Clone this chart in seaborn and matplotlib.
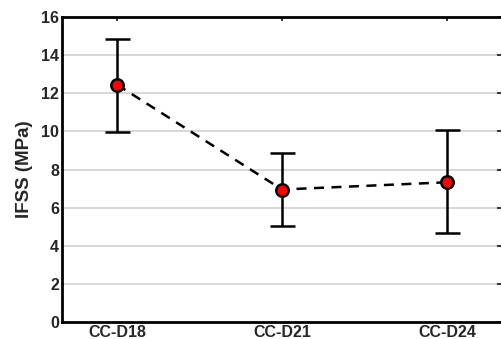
import numpy as np
import pandas as pd
import matplotlib
matplotlib.use('Agg')
import matplotlib.pyplot as plt
import seaborn as sns

sns.set_style('white')
plt.rcParams['font.family'] = ['Liberation Sans', 'DejaVu Sans']
plt.rcParams['font.weight'] = 'bold'

samples = ['CC-D18', 'CC-D21', 'CC-D24']
ifss_mean = [12.45, 6.95, 7.33]
ifss_low = [9.98, 5.05, 4.67]
ifss_high = [14.85, 8.85, 10.07]
yticks = [0, 2, 4, 6, 8, 10, 12, 14, 16]

df = pd.DataFrame({'pos': np.arange(len(samples)), 'sample': samples, 'ifss': ifss_mean})
yerr = [np.array(ifss_mean) - np.array(ifss_low), np.array(ifss_high) - np.array(ifss_mean)]

fig = plt.figure(figsize=(5.01, 3.39), dpi=100)
ax = fig.add_axes([62 / 501, 17 / 339, 439 / 501, 305 / 339])

# light horizontal grid
for y in yticks[1:]:
    ax.axhline(y, color='#d4d4d4', lw=1.3, zorder=0)

ax.errorbar(df['pos'], df['ifss'], yerr=yerr, fmt='none', ecolor='black',
            elinewidth=1.8, capsize=9, capthick=1.8, zorder=2)
sns.lineplot(data=df, x='pos', y='ifss', ax=ax, color='black', lw=1.8,
             linestyle=(0, (4, 3)), zorder=3)
sns.scatterplot(data=df, x='pos', y='ifss', ax=ax, color='red', edgecolor='black',
                linewidth=1.8, s=80, zorder=4)

ax.set_xlim(-1 / 3, 2.327)
ax.set_ylim(0, 16)
ax.set_yticks(yticks)
ax.set_xticks(df['pos'])
ax.set_xticklabels(samples, fontsize=11.5, fontweight='bold')
ax.set_yticklabels([str(t) for t in yticks], fontsize=11.5, fontweight='bold')
ax.tick_params(direction='in', length=3, width=1.3, top=True, right=True, pad=2)
ax.set_xlabel('')
ax.set_ylabel('IFSS (MPa)', fontsize=13.5, fontweight='bold', labelpad=6)
for side in ['left', 'bottom', 'top']:
    ax.spines[side].set_linewidth(2)
    ax.spines[side].set_color('black')
ax.spines['right'].set_visible(False)

fig.savefig('out.png', dpi=100)
